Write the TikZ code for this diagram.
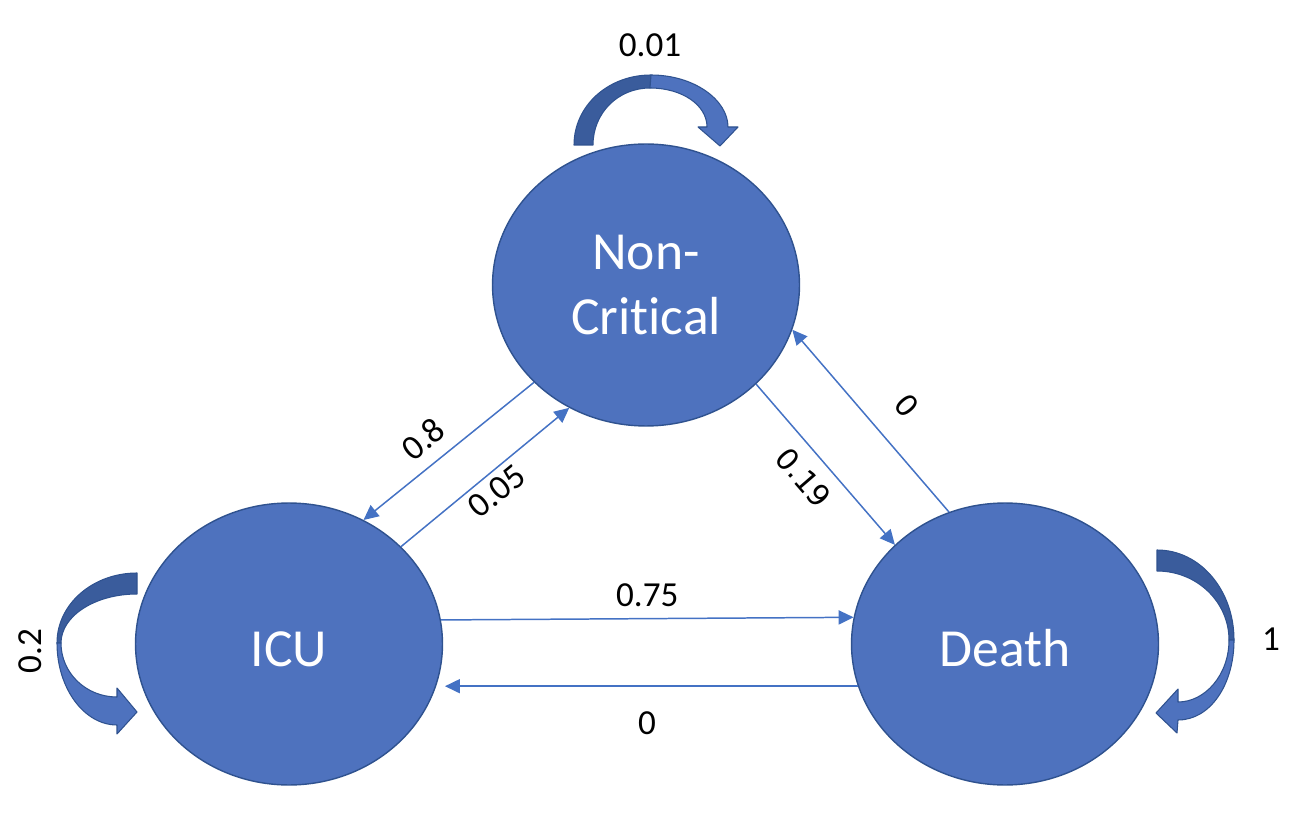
\documentclass[tikz,border=0pt]{standalone}
\usepackage{fontspec}
\setmainfont{Carlito}[Ligatures=NoCommon]
\newfontfamily\dejavu{DejaVu Sans}
\usetikzlibrary{arrows.meta,shapes.geometric}
\definecolor{fillblue}{HTML}{4E72BE}
\definecolor{lineblue}{HTML}{4472C4}
\definecolor{edgeblue}{HTML}{2F528F}
\definecolor{backblue}{HTML}{3A5C9C}
\begin{document}
\begin{tikzpicture}[x=0.02cm, y=-0.02cm,
    state/.style = {ellipse, draw=edgeblue, line width=0.8pt, fill=fillblue,
        text=white, minimum width=6.14cm, minimum height=5.64cm, inner sep=0pt,
        align=center, font=\fontsize{30.5}{37}\selectfont},
    arrow/.style = {lineblue, line width=0.85pt, -{Triangle[length=8.5pt,width=8pt]}},
    prob/.style = {text=black, font=\fontsize{20}{24}\selectfont},
    probdv/.style = {text=black, font=\dejavu\fontsize{17}{20}\selectfont},
    loopback/.style = {fill=backblue, draw=edgeblue, line width=0.6pt, line join=round},
    loopfront/.style = {fill=fillblue, draw=edgeblue, line width=0.6pt, line join=round}]
                \useasboundingbox (0,0) rectangle (1314,820);

                \node[state] (nc) at (646,285) {Non-\\Critical};
                \node[state, text height=25.3pt] (icu) at (289,644) {ICU};
                \node[state, text height=25.3pt] (death) at (1005,644) {Death};

                \draw[arrow] (icu.9.78) -- node[prob, above=3pt] {0.75} (death.170.22);
                \draw[arrow, shorten >=5pt] (death.196.04) -- node[prob, below=11pt] {0} (icu.-16.04);
                \draw[arrow] (nc.221) -- node[prob, sloped, above=4pt, pos=0.556] {0.8} (icu.59.8);
                \draw[arrow] (icu.41.6) -- node[prob, sloped, below=0pt, pos=0.5] {0.05} (nc.238.3);
                \draw[arrow] (nc.318.9) -- node[probdv, sloped, below=4pt, pos=0.48] {0.19} (death.138.4);
                \draw[arrow] (death.113.6) -- node[probdv, sloped, above=11pt, pos=0.45] {0} (nc.343.7);

                \draw[loopback] (574,145) .. controls (574,106) and (608,75) .. (651,75)
                    -- (650,88) .. controls (618,88) and (593,113) .. (593,145) -- cycle;
                \draw[loopfront] (651,75) .. controls (694,75) and (728,100) .. (728,127)
                    -- (738,127) -- (720,146) -- (698,127) -- (707,127)
                    .. controls (707,105) and (682,88) .. (650,88) -- cycle;
                \node[prob] (pnc) at (650,45) {0.01};

                \draw[loopback] (137,573) .. controls (93,573) and (57,604) .. (57,643)
                    -- (61,643) .. controls (61,616) and (95,594) .. (137,594) -- cycle;
                \draw[loopfront] (57,643) .. controls (57,688) and (84,725) .. (117,725)
                    -- (117,734) -- (137,712) -- (117,688) -- (117,697)
                    .. controls (86,697) and (61,673) .. (61,643) -- cycle;
                \node[prob, rotate=90] (picu) at (30,651) {0.2};

                \draw[loopback] (1157,550) .. controls (1200,550) and (1234,590) .. (1234,640)
                    -- (1229,640) .. controls (1229,602) and (1197,571) .. (1157,571) -- cycle;
                \draw[loopfront] (1234,640) .. controls (1234,685) and (1210,720) .. (1178,720)
                    -- (1177,733) -- (1156,713) -- (1178,689) -- (1178,702)
                    .. controls (1205,702) and (1229,675) .. (1229,640) -- cycle;
                \node[prob] (pdeath) at (1271,639) {1};
\end{tikzpicture}
\end{document}
